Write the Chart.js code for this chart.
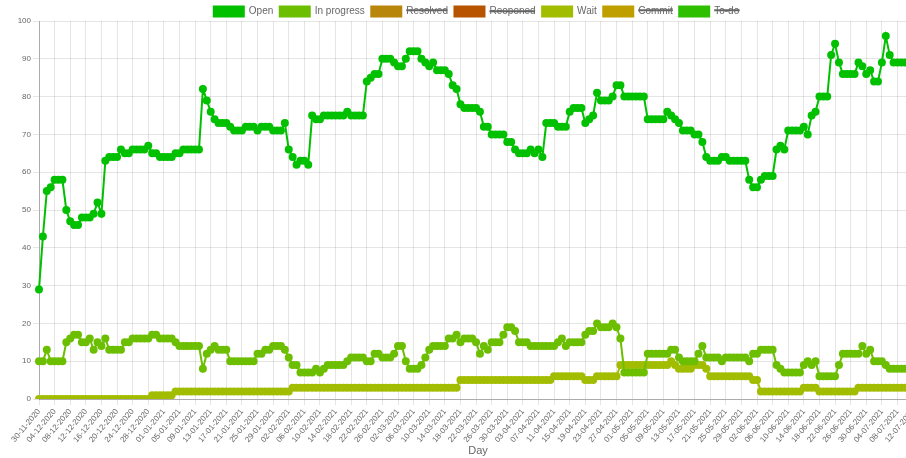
<!DOCTYPE html>
<html>
<head>
<meta charset="utf-8">
<script src="https://cdn.jsdelivr.net/npm/chart.js@4.4.1/dist/chart.umd.min.js"></script>
<style>
  html, body { margin: 0; padding: 0; overflow: hidden; background: #fff; }
  #wrap { width: 953px; height: 458px; }
</style>
</head>
<body>
<div id="wrap"><canvas id="grafico"></canvas></div>
<script>
// dias desde 30-11-2020
const inicio = new Date(2020, 10, 30);
const totalDias = 226;
const dias = [];
for (let i = 0; i < totalDias; i++) {
    const d = new Date(inicio.getFullYear(), inicio.getMonth(), inicio.getDate() + i);
    const dd = String(d.getDate()).padStart(2, '0');
    const mm = String(d.getMonth() + 1).padStart(2, '0');
    dias.push(dd + '-' + mm + '-' + d.getFullYear());
}

const open = [
    29,43,55,56,58,58,58,50,47,46, 46,48,48,48,49,52,49,63,64,64,
    64,66,65,65,66,66,66,66,67,65, 65,64,64,64,64,65,65,66,66,66,
    66,66,82,79,76,74,73,73,73,72, 71,71,71,72,72,72,71,72,72,72,
    71,71,71,73,66,64,62,63,63,62, 75,74,74,75,75,75,75,75,75,76,
    75,75,75,75,84,85,86,86,90,90, 90,89,88,88,90,92,92,92,90,89,
    88,89,87,87,87,86,83,82,78,77, 77,77,77,76,72,72,70,70,70,70,
    68,68,66,65,65,65,66,65,66,64, 73,73,73,72,72,72,76,77,77,77,
    73,74,75,81,79,79,79,80,83,83, 80,80,80,80,80,80,74,74,74,74,
    74,76,75,74,73,71,71,71,70,70, 68,64,63,63,63,64,64,63,63,63,
    63,63,58,56,56,58,59,59,59,66, 67,66,71,71,71,71,72,70,75,76,
    80,80,80,91,94,89,86,86,86,86, 89,88,86,87,84,84,89,96,91,89,
    89,89,89,89,89,89
];

const inProgress = [
    10,10,13,10,10,10,10,15,16,17, 17,15,15,16,13,15,14,16,13,13,
    13,13,15,15,16,16,16,16,16,17, 17,16,16,16,16,15,14,14,14,14,
    14,14,8,12,13,14,13,13,13,10, 10,10,10,10,10,10,12,12,13,13,
    14,14,14,13,11,9,9,7,7,7, 7,8,7,8,9,9,9,9,9,10,
    11,11,11,11,10,10,12,12,11,11, 11,12,14,14,10,8,8,8,9,11,
    13,14,14,14,14,16,16,17,15,16, 16,16,15,12,14,13,15,15,15,17,
    19,19,18,15,15,15,14,14,14,14, 14,14,14,15,16,14,15,15,15,15,
    17,18,18,20,19,19,19,20,19,16, 7,7,7,7,7,7,12,12,12,12,
    12,12,13,13,11,10,10,10,10,12, 14,11,11,11,11,10,11,11,11,11,
    11,11,10,12,12,13,13,13,13,9, 8,7,7,7,7,7,9,10,9,10,
    6,6,6,6,6,9,12,12,12,12, 12,14,12,13,10,10,10,9,8,8,
    8,8,8,8,8,8
];

const wait = [
    0,0,0,0,0,0,0,0,0,0, 0,0,0,0,0,0,0,0,0,0,
    0,0,0,0,0,0,0,0,0,1, 1,1,1,1,1,2,2,2,2,2,
    2,2,2,2,2,2,2,2,2,2, 2,2,2,2,2,2,2,2,2,2,
    2,2,2,2,2,3,3,3,3,3, 3,3,3,3,3,3,3,3,3,3,
    3,3,3,3,3,3,3,3,3,3, 3,3,3,3,3,3,3,3,3,3,
    3,3,3,3,3,3,3,3,5,5, 5,5,5,5,5,5,5,5,5,5,
    5,5,5,5,5,5,5,5,5,5, 5,5,6,6,6,6,6,6,6,6,
    5,5,5,6,6,6,6,6,6,9, 9,9,9,9,9,9,9,9,9,9,
    9,9,10,9,8,8,8,8,9,9, 9,8,6,6,6,6,6,6,6,6,
    6,6,6,5,5,2,2,2,2,2, 2,2,2,2,2,2,3,3,3,3,
    2,2,2,2,2,2,2,2,2,2, 3,3,3,3,3,3,3,3,3,3,
    3,3,3,3,3,3
];

// series ocultas (solo leyenda)
const resolved = [];
const reoponed = [];
const commit = [];
const toDo = [];

// una etiqueta cada 4 dias
const pasoEtiquetas = 4;
const gris = '#666';
const lineaEje = 'rgba(0,0,0,0.25)';

function serie(label, data, color, hidden) {
    return {
        label: label,
        data: data,
        borderColor: color,
        backgroundColor: color,
        pointBackgroundColor: color,
        pointBorderColor: color,
        borderWidth: 2,
        pointRadius: 3,
        fill: false,
        hidden: hidden
    };
}

new Chart(document.getElementById('grafico'), {
    type: 'line',
    data: {
        labels: dias,
        datasets: [
            serie('Open', open, '#00c000', false),
            serie('In progress', inProgress, '#6cbf00', false),
            serie('Resolved', resolved, '#b8860b', true),
            serie('Reoponed', reoponed, '#b85400', true),
            serie('Wait', wait, '#a2bd00', false),
            serie('Commit', commit, '#bf9f00', true),
            serie('To-do', toDo, '#2ec000', true)
        ]
    },
    options: {
        responsive: true,
        maintainAspectRatio: false,
        animation: false,
        plugins: {
            legend: {
                position: 'top',
                maxHeight: 21,
                labels: { boxWidth: 30, boxHeight: 10, padding: 6.5, color: gris, font: { size: 10 } }
            },
            tooltip: { enabled: false }
        },
        scales: {
            x: {
                title: { display: true, text: 'Day', color: gris, font: { size: 11 }, padding: 0 },
                ticks: { color: gris, font: { size: 8 }, minRotation: 50, maxRotation: 50, autoSkip: false, padding: 2 },
                grid: { color: 'rgba(0,0,0,0.1)', tickLength: 6 },
                border: { color: lineaEje },
                afterBuildTicks: (scale) => {
                    scale.ticks = scale.ticks.filter((t, i) => i % pasoEtiquetas === 0);
                },
                afterFit: (scale) => {
                    scale.height = 59;
                    scale.paddingRight = 36;
                }
            },
            y: {
                min: 0,
                max: 100,
                ticks: { stepSize: 10, color: gris, font: { size: 8 }, padding: 2 },
                grid: { color: 'rgba(0,0,0,0.1)', tickLength: 6 },
                border: { color: lineaEje },
                afterFit: (scale) => { scale.width = 39; }
            }
        }
    }
});
</script>
</body>
</html>
